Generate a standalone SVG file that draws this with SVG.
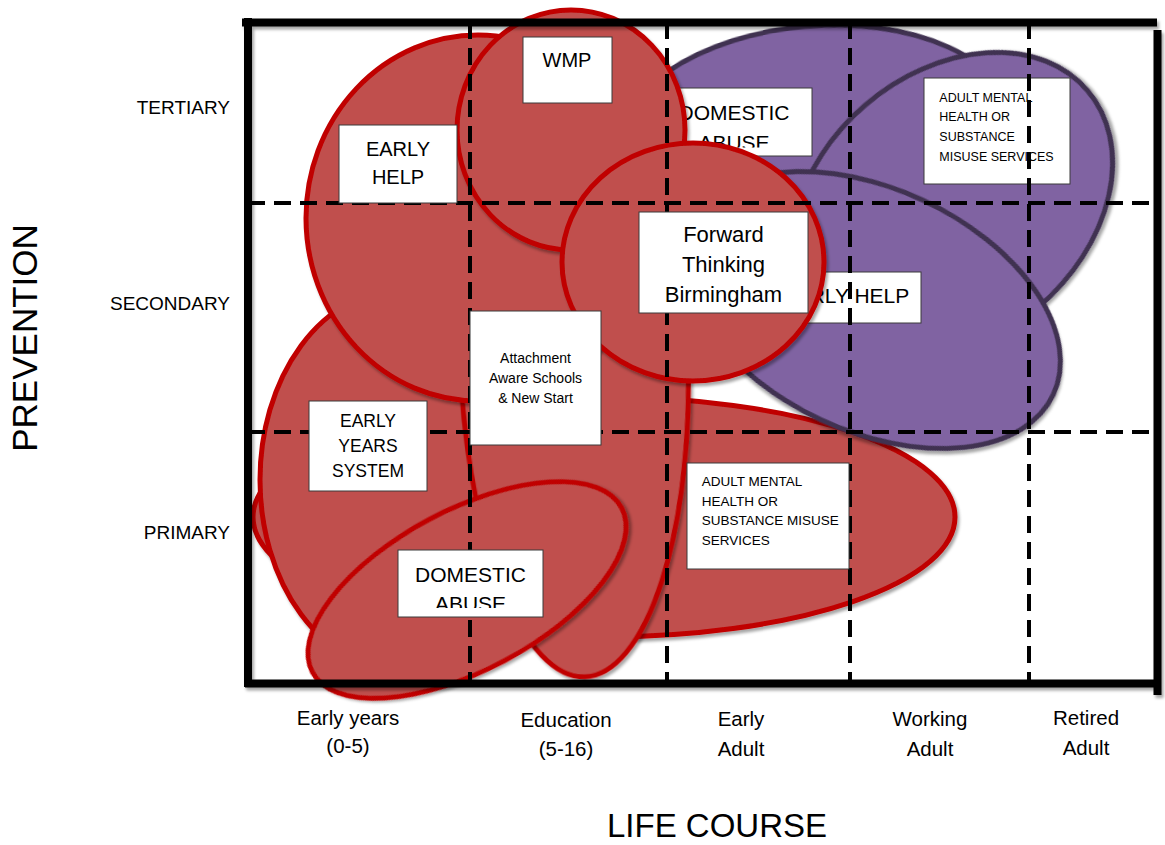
<svg xmlns="http://www.w3.org/2000/svg" width="1165" height="845" viewBox="0 0 1165 845">
<defs>
<style>
.red{fill:#C0504D;stroke:#C00000;stroke-width:5}
.pur{fill:#8064A2;stroke:#3F3151;stroke-width:5}
.box{fill:#fff;stroke:#3a3a3a;stroke-width:1}
.grid line{stroke:#000;stroke-width:4;stroke-dasharray:17 9}
.frame line{stroke:#000;stroke-width:8}
text{font-family:"Liberation Sans",Arial,sans-serif;fill:#000}
.c{text-anchor:middle}
.e{text-anchor:end}
</style>
<filter id="sh" filterUnits="userSpaceOnUse" x="0" y="0" width="1165" height="845">
<feDropShadow dx="2" dy="3" stdDeviation="1.5" flood-color="#000" flood-opacity="0.35"/>
</filter>
<clipPath id="clipDaP"><rect x="660" y="88" width="152" height="59.5"/></clipPath>
<clipPath id="clipDaR"><rect x="398" y="550" width="145" height="58"/></clipPath>
</defs>
<rect width="1165" height="845" fill="#fff"/>

<!-- axis labels -->
<g id="axis-labels">
<text x="230" y="114" class="e" font-size="19">TERTIARY</text>
<text x="230" y="310" class="e" font-size="19">SECONDARY</text>
<text x="230" y="539" class="e" font-size="19">PRIMARY</text>
<text transform="translate(37,338) rotate(-90)" class="c" font-size="35">PREVENTION</text>
<text x="348" y="725" class="c" font-size="20.5">Early years</text>
<text x="348" y="753" class="c" font-size="20.5">(0-5)</text>
<text x="566" y="727" class="c" font-size="20.5">Education</text>
<text x="566" y="756" class="c" font-size="20.5">(5-16)</text>
<text x="741" y="726" class="c" font-size="20.5">Early</text>
<text x="741" y="756" class="c" font-size="20.5">Adult</text>
<text x="930" y="726" class="c" font-size="20.5">Working</text>
<text x="930" y="756" class="c" font-size="20.5">Adult</text>
<text x="1086" y="725" class="c" font-size="20.5">Retired</text>
<text x="1086" y="755" class="c" font-size="20.5">Adult</text>
<text x="717" y="837" class="c" font-size="33">LIFE COURSE</text>
</g>

<!-- red primary adult ellipse -->
<g id="region-adult-red"><ellipse class="red" filter="url(#sh)" cx="604" cy="517" rx="351" ry="120"/></g>

<!-- purple regions with their labels -->
<g id="node-domestic-purple">
<ellipse class="pur" filter="url(#sh)" cx="815" cy="140" rx="200" ry="114" transform="rotate(-5 815 140)"/>
<rect class="box" x="660" y="88" width="152" height="68"/>
<g clip-path="url(#clipDaP)">
<text x="734" y="120" class="c" font-size="21">DOMESTIC</text>
<text x="734" y="149.5" class="c" font-size="21">ABUSE</text>
</g>
</g>
<g id="node-adult-purple">
<ellipse class="pur" filter="url(#sh)" cx="952" cy="206" rx="178" ry="133" transform="rotate(-40.5 952 206)"/>
<rect class="box" x="924" y="78" width="146" height="106"/>
<text x="939.3" y="101.7" font-size="12.5">ADULT MENTAL</text>
<text x="939.3" y="121.4" font-size="12.5">HEALTH OR</text>
<text x="939.3" y="141" font-size="12.5">SUBSTANCE</text>
<text x="939.3" y="160.5" font-size="12.5">MISUSE SERVICES</text>
</g>
<g id="node-earlyhelp-purple">
<ellipse class="pur" filter="url(#sh)" cx="872" cy="310" rx="200" ry="121" transform="rotate(25 872 310)"/>
<rect class="box" x="770" y="272" width="151" height="51"/>
<text x="845.5" y="303" class="c" font-size="21">EARLY HELP</text>
</g>

<!-- red regions -->
<g id="regions-red">
<ellipse id="region-early-years" class="red" filter="url(#sh)" cx="400" cy="480" rx="140" ry="190"/>
<ellipse id="region-attachment" class="red" filter="url(#sh)" cx="574" cy="355" rx="114" ry="322" transform="rotate(-1.9 574 355)"/>
<ellipse id="region-early-help" class="red" filter="url(#sh)" cx="478" cy="218" rx="172" ry="183"/>
<ellipse id="region-wmp" class="red" filter="url(#sh)" cx="571" cy="130" rx="114" ry="120"/>
<ellipse id="region-fwd" class="red" filter="url(#sh)" cx="693" cy="262" rx="131" ry="119"/>
<ellipse id="region-domestic-red" class="red" filter="url(#sh)" cx="467" cy="590" rx="175" ry="80" transform="rotate(-28 467 590)"/>
</g>

<!-- grid (connectors) -->
<g id="connectors" class="grid">
<line x1="470" y1="22" x2="470" y2="683"/>
<line x1="667" y1="22" x2="667" y2="683"/>
<line x1="850" y1="22" x2="850" y2="683"/>
<line x1="1029" y1="22" x2="1029" y2="683"/>
<line x1="248" y1="203" x2="1157" y2="203"/>
<line x1="248" y1="432" x2="1157" y2="432"/>
</g>

<!-- red labels -->
<g id="node-early-help">
<rect class="box" x="339" y="125" width="118" height="78"/>
<text x="398" y="155.7" class="c" font-size="20">EARLY</text>
<text x="398" y="184.3" class="c" font-size="20">HELP</text>
</g>
<g id="node-wmp">
<rect class="box" x="523" y="37" width="89" height="66"/>
<text x="567" y="66.7" class="c" font-size="20">WMP</text>
</g>
<g id="node-fwd">
<rect class="box" x="639" y="212" width="169" height="101"/>
<text x="723.5" y="242.3" class="c" font-size="22">Forward</text>
<text x="723.5" y="272" class="c" font-size="22">Thinking</text>
<text x="723.5" y="301.7" class="c" font-size="22">Birmingham</text>
</g>
<g id="node-attachment">
<rect class="box" x="470" y="311" width="131" height="134"/>
<text x="535.5" y="363.3" class="c" font-size="14">Attachment</text>
<text x="535.5" y="383.3" class="c" font-size="14">Aware Schools</text>
<text x="535.5" y="403.3" class="c" font-size="14">&amp; New Start</text>
</g>
<g id="node-early-years">
<rect class="box" x="309" y="401" width="118" height="90"/>
<text x="368" y="426.7" class="c" font-size="17.5">EARLY</text>
<text x="368" y="451.7" class="c" font-size="17.5">YEARS</text>
<text x="368" y="476.7" class="c" font-size="17.5">SYSTEM</text>
</g>
<g id="node-adult-red">
<rect class="box" x="687" y="463" width="162" height="106"/>
<text x="701.7" y="486" font-size="13.5">ADULT MENTAL</text>
<text x="701.7" y="505.5" font-size="13.5">HEALTH OR</text>
<text x="701.7" y="525" font-size="13.5">SUBSTANCE MISUSE</text>
<text x="701.7" y="544.5" font-size="13.5">SERVICES</text>
</g>
<g id="node-domestic-red">
<rect class="box" x="398" y="550" width="145" height="67"/>
<g clip-path="url(#clipDaR)">
<text x="470.5" y="581.7" class="c" font-size="21">DOMESTIC</text>
<text x="470.5" y="610.5" class="c" font-size="21">ABUSE</text>
</g>
</g>

<!-- frame -->
<g id="frame" class="frame" filter="url(#sh)">
<line x1="242" y1="22.5" x2="1157" y2="22.5"/>
<line x1="248" y1="18" x2="248" y2="687"/>
<line x1="1157.5" y1="30" x2="1157.5" y2="695"/>
<line x1="245" y1="683.5" x2="1161" y2="683.5"/>
</g>
</svg>
